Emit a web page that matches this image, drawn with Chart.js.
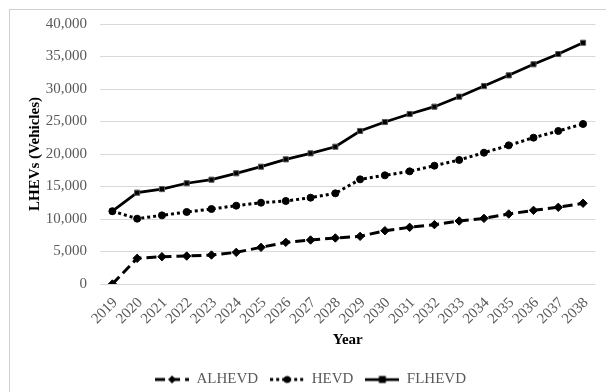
<!DOCTYPE html>
<html>
<head>
<meta charset="utf-8">
<script src="https://cdn.jsdelivr.net/npm/chart.js@4/dist/chart.umd.min.js"></script>
<style>
  html, body { margin: 0; padding: 0; background: #ffffff; }
  #wrap { position: relative; width: 606px; height: 392px; overflow: hidden; }
  #frame { position: absolute; left: 9px; top: 9px; width: 620px; height: 400px; border-left: 1px solid #d0d0d0; border-top: 1px solid #d0d0d0; }
  canvas { position: absolute; left: 0; top: 0; }
</style>
</head>
<body>
<div id="wrap">
  <div id="frame"></div>
  <canvas id="c" width="606" height="392"></canvas>
</div>
<script>
const years = ['2019','2020','2021','2022','2023','2024','2025','2026','2027','2028','2029','2030','2031','2032','2033','2034','2035','2036','2037','2038'];
const alhevd = [0,3950,4200,4300,4460,4870,5640,6410,6770,7080,7330,8200,8720,9130,9690,10100,10770,11330,11800,12420];
const hevd = [11200,10050,10560,11080,11540,12050,12510,12770,13280,13950,16100,16720,17330,18200,19080,20200,21330,22510,23540,24620];
const flhevd = [11200,14050,14600,15500,16050,17030,18050,19180,20100,21120,23540,24920,26150,27280,28820,30460,32100,33800,35380,37120];
const seriesNames = ['ALHEVD','HEVD','FLHEVD'];
const yMin = 0, yMax = 40000, yStep = 5000;

const FONT = "'Liberation Serif', 'Times New Roman', serif";
const TICK_COLOR = '#595959';
const PAD_BOTTOM = -5;

function legendSample(dash, lineWidth, style) {
  const cv = document.createElement('canvas');
  cv.width = 34; cv.height = 10;
  const g = cv.getContext('2d');
  g.strokeStyle = '#000';
  g.lineWidth = lineWidth;
  g.setLineDash(dash);
  g.beginPath(); g.moveTo(0, 5); g.lineTo(34, 5); g.stroke();
  g.setLineDash([]);
  g.fillStyle = '#000';
  g.beginPath();
  if (style === 'rectRot') { g.moveTo(17, 1); g.lineTo(21, 5); g.lineTo(17, 9); g.lineTo(13, 5); g.closePath(); }
  else if (style === 'circle') { g.arc(17, 5, 3.5, 0, Math.PI * 2); }
  else { g.rect(13.5, 1.5, 7, 7); }
  g.fill();
  return cv;
}

const styles = [
  { dash: [10, 5], width: 3, point: 'rectRot', radius: 4.2 },
  { dash: [3, 3], width: 3, point: 'circle', radius: 3.5 },
  { dash: [], width: 2.75, point: 'rect', radius: 3.6 }
];
const dataArrays = [alhevd, hevd, flhevd];

const datasets = dataArrays.map((arr, i) => ({
  label: seriesNames[i],
  data: arr,
  borderColor: '#000000',
  backgroundColor: '#000000',
  borderWidth: styles[i].width,
  borderDash: styles[i].dash,
  pointStyle: styles[i].point,
  pointRadius: styles[i].radius,
  pointBackgroundColor: '#000000',
  pointBorderColor: i === 2 ? '#555555' : '#000000',
  pointBorderWidth: 1,
  tension: 0,
  fill: false
}));

const samples = styles.map(s => legendSample(s.dash, s.width, s.point));

new Chart(document.getElementById('c'), {
  type: 'line',
  data: { labels: years, datasets: datasets },
  options: {
    responsive: false,
    animation: false,
    devicePixelRatio: 1,
    layout: { padding: { left: 24, right: 9, top: 24, bottom: PAD_BOTTOM } },
    plugins: {
      tooltip: { enabled: false },
      legend: {
        position: 'bottom',
        labels: {
          usePointStyle: true,
          pointStyleWidth: 34,
          padding: 12,
          color: TICK_COLOR,
          font: { family: FONT, size: 15 },
          generateLabels: (chart) => seriesNames.map((n, i) => ({
            text: n,
            pointStyle: samples[i],
            fillStyle: '#000',
            strokeStyle: '#000',
            lineWidth: 0,
            hidden: false,
            datasetIndex: i,
            fontColor: TICK_COLOR
          }))
        }
      }
    },
    scales: {
      x: {
        type: 'category',
        offset: true,
        grid: { display: false, offset: true, drawTicks: false },
        border: { display: false },
        ticks: {
          color: TICK_COLOR,
          font: { family: FONT, size: 15 },
          minRotation: 45, maxRotation: 45,
          autoSkip: false,
          padding: 10,
          labelOffset: 3
        },
        title: {
          display: true,
          text: 'Year',
          color: '#000',
          font: { family: FONT, size: 15, weight: 'bold' },
          padding: { top: 0, bottom: 11 }
        },
        afterFit: (scale) => {
          const lh = scale.chart.legend ? scale.chart.legend.height : 0;
          scale.height = (392 - PAD_BOTTOM) - 284 - lh;
        }
      },
      y: {
        min: yMin, max: yMax,
        grid: { color: '#d9d9d9', lineWidth: 1, drawTicks: false },
        border: { display: false },
        ticks: {
          stepSize: yStep,
          color: TICK_COLOR,
          font: { family: FONT, size: 15 },
          padding: 13,
          callback: (v) => Number(v).toLocaleString('en-US')
        },
        title: {
          display: true,
          text: 'LHEVs (Vehicles)',
          color: '#000',
          font: { family: FONT, size: 15, weight: 'bold' },
          padding: { top: 2, bottom: 0 }
        },
        afterFit: (scale) => { scale.width = 76; }
      }
    }
  }
});
</script>
</body>
</html>
